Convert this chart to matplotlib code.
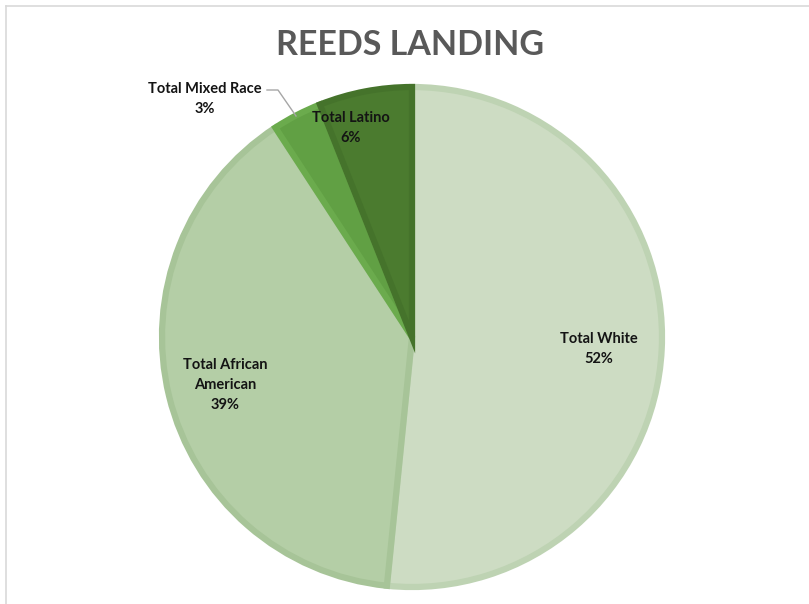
import matplotlib.pyplot as plt
from matplotlib.lines import Line2D

# slice data, clockwise from 12 o'clock
groups = ['Total White', 'Total African\nAmerican', 'Total Mixed Race', 'Total Latino']
shares = [51.6, 39.2, 3.2, 6.0]
fills = ['#cddcc3', '#b4cea6', '#61a044', '#4b7b2f']
edges = ['#bed3b3', '#a7c498', '#6bab4d', '#45732b']

plt.rcParams['font.family'] = ['Lato', 'DejaVu Sans']

fig = plt.figure(figsize=(8.09, 6.04), dpi=100)
ax = fig.add_axes([0, 0, 1, 1])

cx, cy, r = 412, 267, 250
wedges, _ = ax.pie(shares, colors=fills, startangle=90, counterclock=False,
                   center=(cx, cy), radius=r, frame=True,
                   wedgeprops=dict(linewidth=4.5))
for w, ec in zip(wedges, edges):
    w.set_edgecolor(ec)
ax.set_xlim(0, 809)
ax.set_ylim(0, 604)
ax.set_aspect('equal')
ax.axis('off')

lab = dict(ha='center', va='center', fontsize=10.5, fontweight='bold', color='#141414',
           linespacing=1.55)
ax.text(599, 604 - 349, f'{groups[0]}\n{round(shares[0])}%', **lab)
ax.text(225, 604 - 385, f'{groups[1]}\n{round(shares[1])}%', **lab)
ax.text(351, 604 - 128, f'{groups[3]}\n{round(shares[3])}%', **lab)
ax.text(205, 604 - 99, f'{groups[2]}\n{round(shares[2])}%', **lab)
ax.plot([267, 278, 296], [604 - 90, 604 - 90, 604 - 116], color='#a6a6a6', lw=1)

ax.text(410, 604 - 45, 'REEDS LANDING', ha='center', va='center', fontsize=24.5,
        fontweight='bold', color='#595959')

# chart frame (only left/top edge visible in the crop)
fig.add_artist(Line2D([6 / 809, 6 / 809], [0, 1 - 6 / 604], color='#d9d9d9', lw=1.2,
                      transform=fig.transFigure))
fig.add_artist(Line2D([6 / 809, 1], [1 - 6 / 604, 1 - 6 / 604], color='#d9d9d9', lw=1.2,
                      transform=fig.transFigure))

fig.savefig('out.png', dpi=100, facecolor='white')
